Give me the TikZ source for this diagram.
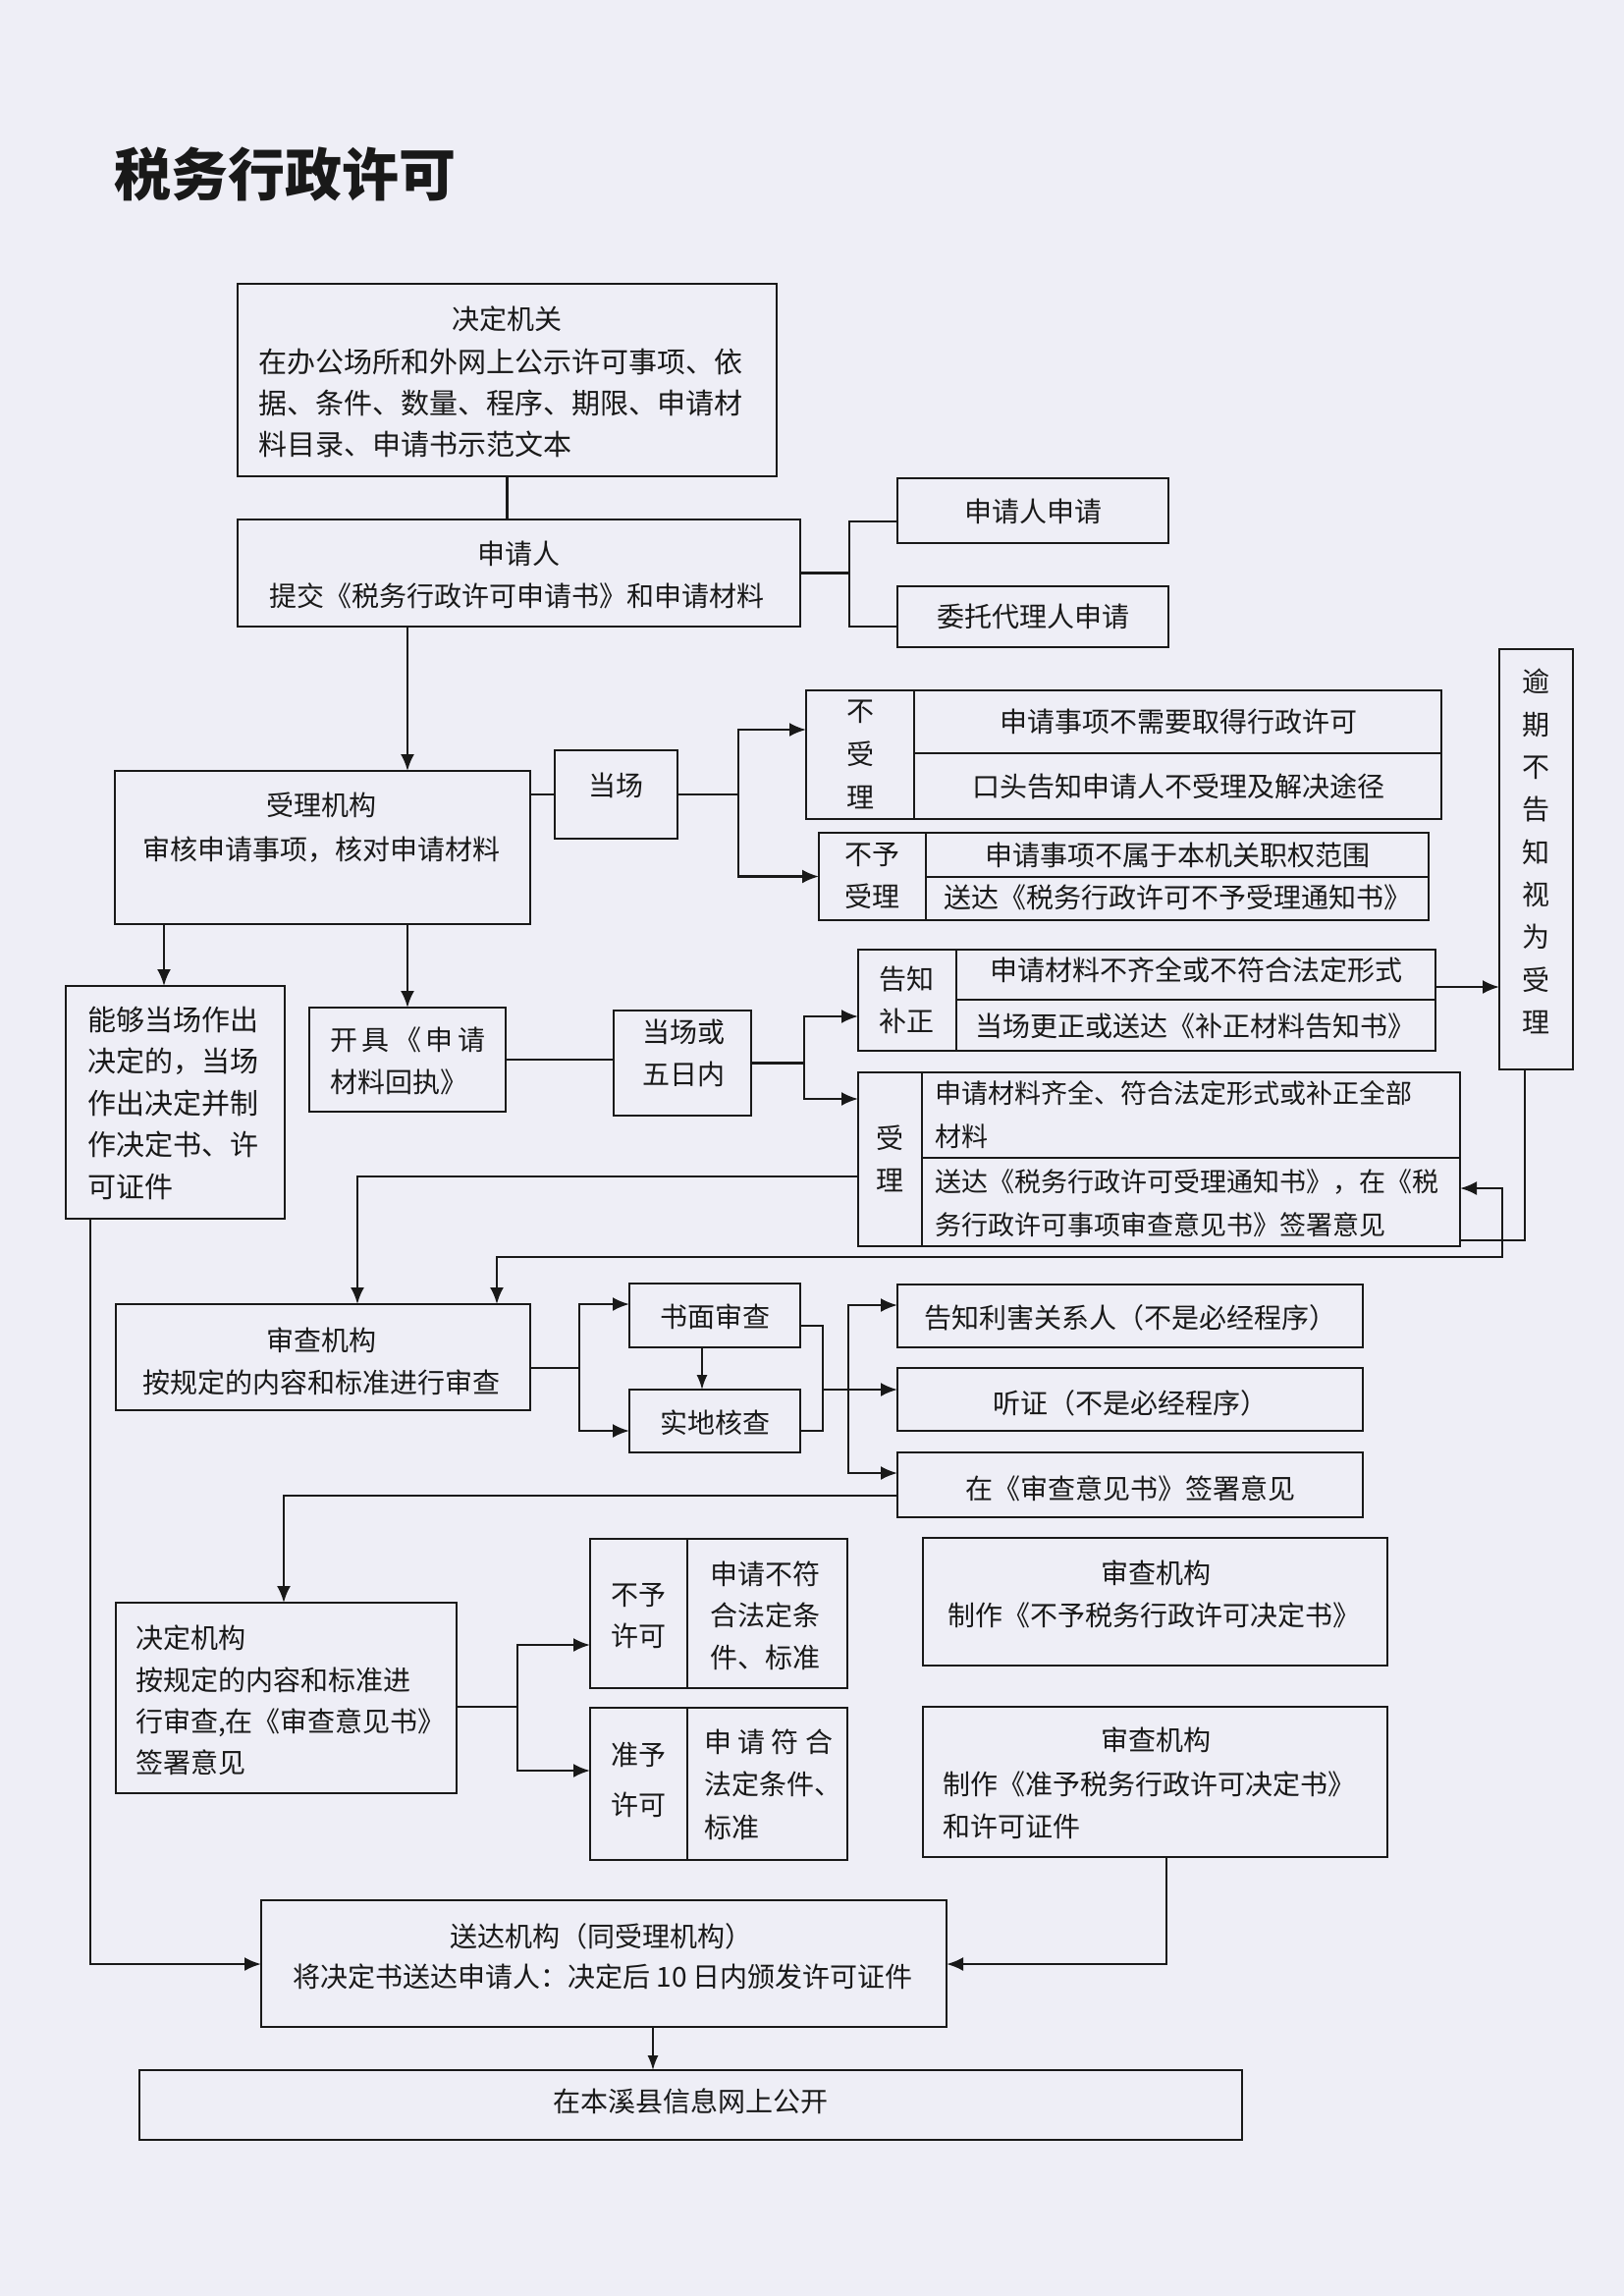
\documentclass[tikz,border=0pt]{standalone}
\usepackage{fontspec}
\setmainfont{Noto Sans CJK SC}
\usetikzlibrary{arrows.meta}
\definecolor{bgc}{RGB}{238,238,246}
\definecolor{ink}{RGB}{25,25,25}
\newcommand\bx[5]{\node[box, minimum width={#4-#2}, minimum height={#5-#3}] (#1) at ({(#2+#4)/2},{(#3+#5)/2}) {};}
\begin{document}
\begin{tikzpicture}[x=1pt,y=-1pt,
  box/.style={draw=ink, line width=2.6pt, inner sep=0pt, outer sep=0pt},
  dv/.style={draw=ink, line width=2.2pt},
  txt/.style={inner sep=0pt, text=ink, font=\fontsize{28}{43}\selectfont},
  ln/.style={draw=ink, line width=2.4pt},
  arr/.style={draw=ink, line width=2.4pt, -{Latex[length=17pt,width=14pt]}},
  arrb/.style={draw=ink, line width=2.4pt, {Latex[length=17pt,width=14pt]}-{Latex[length=17pt,width=14pt]}},
  tarr/.style={draw=ink, line width=1.6pt, -{Latex[length=15pt,width=11pt]}}]
\fill[bgc] (0,0) rectangle (1654,2338);
\useasboundingbox (0,0) rectangle (1654,2338);

% title
\node[txt, anchor=west, font=\fontsize{58}{58}\selectfont\bfseries] (title) at (116,178) {税务行政许可};

% boxes
\bx{jdjg}{242}{289}{791}{485}
\bx{sqr}{242}{529}{815}{638}
\bx{sqrsq}{914}{487}{1190}{553}
\bx{wt}{914}{597}{1190}{659}
\bx{sljg}{117}{785}{540}{941}
\bx{dc}{565}{764}{690}{854}
\bx{bsl}{821}{703}{1468}{834}
\bx{bysl}{834}{848}{1455}{937}
\bx{yq}{1527}{661}{1602}{1089}
\bx{nd}{67}{1004}{290}{1241}
\bx{kj}{315}{1026}{515}{1132}
\bx{dcw}{625}{1029}{765}{1136}
\bx{gz}{874}{967}{1462}{1070}
\bx{sl}{874}{1092}{1487}{1269}
\bx{scjg}{118}{1328}{540}{1436}
\bx{sm}{641}{1307}{815}{1372}
\bx{sd}{641}{1415}{815}{1479}
\bx{gzlh}{914}{1308}{1388}{1372}
\bx{tz}{914}{1393}{1388}{1457}
\bx{zsc}{914}{1479}{1388}{1545}
\bx{jdjgb}{118}{1632}{465}{1826}
\bx{byxk}{601}{1567}{863}{1719}
\bx{zyxk}{601}{1739}{863}{1894}
\bx{scby}{940}{1566}{1413}{1696}
\bx{sczy}{940}{1738}{1413}{1891}
\bx{sdjg}{266}{1935}{964}{2064}
\bx{gk}{142}{2108}{1265}{2179}

% inner dividers
\draw[dv] (931,703) -- (931,834);  \draw[dv] (931,767) -- (1468,767);
\draw[dv] (943,848) -- (943,937);  \draw[dv] (943,893) -- (1455,893);
\draw[dv] (974,967) -- (974,1070); \draw[dv] (974,1018) -- (1462,1018);
\draw[dv] (939,1092) -- (939,1269); \draw[dv] (939,1179) -- (1487,1179);
\draw[dv] (700,1567) -- (700,1719);
\draw[dv] (700,1739) -- (700,1894);

% texts
\node[txt] (t1) at (516,325) {决定机关};
\node[txt, anchor=west, align=left, font=\fontsize{29}{42}\selectfont] (t2) at (263,410) {在办公场所和外网上公示许可事项、依\\据、条件、数量、程序、期限、申请材\\料目录、申请书示范文本};
\node[txt] (t3) at (528,564) {申请人};
\node[txt] (t4) at (526,607) {提交《税务行政许可申请书》和申请材料};
\node[txt] (t5) at (1052,521) {申请人申请};
\node[txt] (t6) at (1052,628) {委托代理人申请};
\node[txt] (t7) at (327,820) {受理机构};
\node[txt] (t8) at (327,865) {审核申请事项，核对申请材料};
\node[txt] (t9) at (627,800) {当场};
\node[txt, align=center, font=\fontsize{28}{44}\selectfont] (t10) at (876,768) {不\\受\\理};
\node[txt] (t11) at (1200,735) {申请事项不需要取得行政许可};
\node[txt] (t12) at (1200,801) {口头告知申请人不受理及解决途径};
\node[txt, align=center] (t13) at (888,892) {不予\\受理};
\node[txt] (t14) at (1199,871) {申请事项不属于本机关职权范围};
\node[txt] (t15) at (1199,914) {送达《税务行政许可不予受理通知书》};
\node[txt, align=center, font=\fontsize{28}{43.3}\selectfont] (t16) at (1564,867) {逾\\期\\不\\告\\知\\视\\为\\受\\理};
\node[txt, anchor=west, align=left, font=\fontsize{29}{42.5}\selectfont] (t17) at (89,1123) {能够当场作出\\决定的，当场\\作出决定并制\\作决定书、许\\可证件};
\node[txt, anchor=west, align=left] (t18) at (336,1080) {\makebox[158pt][s]{开\hfil 具\hfil 《\hfil 申\hfil 请}\\材料回执》};
\node[txt, align=center] (t19) at (696,1072) {当场或\\五日内};
\node[txt, align=center] (t20) at (923,1018) {告知\\补正};
\node[txt] (t21) at (1218,988) {申请材料不齐全或不符合法定形式};
\node[txt] (t22) at (1217,1045) {当场更正或送达《补正材料告知书》};
\node[txt, align=center] (t23) at (906,1180) {受\\理};
\node[txt, anchor=west, align=left, font=\fontsize{27}{44}\selectfont] (t24) at (952,1135.5) {申请材料齐全、符合法定形式或补正全部\\材料};
\node[txt, anchor=west, align=left, font=\fontsize{27}{44}\selectfont] (t25) at (952,1225) {送达《税务行政许可受理通知书》，在《税\\务行政许可事项审查意见书》签署意见};
\node[txt] (t26) at (327,1365) {审查机构};
\node[txt] (t27) at (327,1408) {按规定的内容和标准进行审查};
\node[txt] (t28) at (728,1341) {书面审查};
\node[txt] (t29) at (728,1449) {实地核查};
\node[txt] (t30) at (1151,1342) {告知利害关系人（不是必经程序）};
\node[txt] (t31) at (1151,1429) {听证（不是必经程序）};
\node[txt] (t32) at (1151,1516) {在《审查意见书》签署意见};
\node[txt, anchor=west, align=left, font=\fontsize{28}{42.3}\selectfont] (t33) at (138,1731.5) {决定机构\\按规定的内容和标准进\\行审查,在《审查意见书》\\签署意见};
\node[txt, align=center, font=\fontsize{28}{42}\selectfont] (t34) at (650,1646) {不予\\许可};
\node[txt, anchor=west, align=left, font=\fontsize{28}{42.5}\selectfont] (t35) at (723,1645) {申请不符\\合法定条\\件、标准};
\node[txt, align=center, font=\fontsize{28}{51}\selectfont] (t36) at (650,1812) {准予\\许可};
\node[txt, anchor=west, align=left, font=\fontsize{28}{43.5}\selectfont] (t37) at (717,1817) {\makebox[131pt][s]{申\hfil 请\hfil 符\hfil 合}\\法定条件、\\标准};
\node[txt] (t38) at (1177,1602) {审查机构};
\node[txt] (t39) at (1175,1645) {制作《不予税务行政许可决定书》};
\node[txt] (t40) at (1177,1772) {审查机构};
\node[txt, anchor=west, align=left] (t41) at (960,1838.5) {制作《准予税务行政许可决定书》\\和许可证件};
\node[txt] (t42) at (612,1972) {送达机构（同受理机构）};
\node[txt] (t43) at (614,2013) {将决定书送达申请人：决定后 10 日内颁发许可证件};
\node[txt] (t44) at (703,2140) {在本溪县信息网上公开};

% helper coordinates
\coordinate (b1) at (865,531);
\coordinate (b2) at (865,638);
\coordinate (k415) at (415,0);
\coordinate (k752) at (752,0);
\coordinate (k167) at (167,0);
\coordinate (k819) at (819,0);
\coordinate (k1553) at (1553,0);
\coordinate (k1530) at (1530,0);
\coordinate (k506) at (506,0);
\coordinate (k364) at (364,0);
\coordinate (k590) at (590,0);
\coordinate (k715) at (715,0);
\coordinate (k838) at (838,0);
\coordinate (k864) at (864,0);
\coordinate (k289) at (289,0);
\coordinate (k527) at (527,0);
\coordinate (k92) at (92,0);
\coordinate (k1188) at (1188,0);
\coordinate (k665) at (665,0);
\coordinate (y743) at (0,743);
\coordinate (y1035) at (0,1035);
\coordinate (y1119) at (0,1119);
\coordinate (y1005) at (0,1005);
\coordinate (y1263) at (0,1263);
\coordinate (y1210) at (0,1210);
\coordinate (y1280) at (0,1280);
\coordinate (y1198) at (0,1198);
\coordinate (y1393) at (0,1393);
\coordinate (y1328) at (0,1328);
\coordinate (y1457) at (0,1457);
\coordinate (y1350) at (0,1350);
\coordinate (y1415) at (0,1415);
\coordinate (y1329) at (0,1329);
\coordinate (y1500) at (0,1500);
\coordinate (y1523) at (0,1523);
\coordinate (y1738) at (0,1738);
\coordinate (y1675) at (0,1675);
\coordinate (y1803) at (0,1803);
\coordinate (y2000) at (0,2000);

% connectors
\draw[ln] (jdjg.south) -- (jdjg.south |- sqr.north);
\draw[ln] (sqr.east) -- (sqr.east -| b1);
\draw[ln] (sqrsq.west |- b1) -- (b1) -- (b2) -- (wt.west |- b2);
\draw[arr] (sqr.south -| k415) -- (sljg.north -| k415);
\draw[ln] (sljg.east |- dc.west) -- (dc.west);
\draw[ln] (dc.east) -- (dc.east -| k752);
\draw[arr] (dc.east -| k752) |- (bsl.west |- y743);
\draw[arr] (dc.east -| k752) |- (bysl.west);
\draw[arr] (sljg.south -| k167) -- (nd.north -| k167);
\draw[arr] (sljg.south -| k415) -- (kj.north -| k415);
\draw[ln] (kj.east) -- (kj.east -| dcw.west);
\draw[ln] (dcw.east) -- (dcw.east -| k819);
\draw[arr] (dcw.east -| k819) |- (gz.west |- y1035);
\draw[arr] (dcw.east -| k819) |- (sl.west |- y1119);
\draw[arr] (gz.east |- y1005) -- (yq.west |- y1005);
\draw[ln] (yq.south -| k1553) |- (sl.east |- y1263);
\draw[arrb] (sl.east |- y1210) -| (k1530 |- y1280) -| (scjg.north -| k506);
\draw[arr] (sl.west |- y1198) -| (scjg.north -| k364);
\draw[ln] (scjg.east |- y1393) -- (k590 |- y1393);
\draw[arr] (k590 |- y1393) |- (sm.west |- y1328);
\draw[arr] (k590 |- y1393) |- (sd.west |- y1457);
\draw[tarr] (sm.south -| k715) -- (sd.north -| k715);
\draw[ln] (sm.east |- y1350) -| (k838 |- y1457) -- (sd.east |- y1457);
\draw[arr] (k838 |- y1415) -- (tz.west |- y1415);
\draw[arr] (k864 |- y1415) |- (gzlh.west |- y1329);
\draw[arr] (k864 |- y1415) |- (zsc.west |- y1500);
\draw[arr] (zsc.west |- y1523) -| (jdjgb.north -| k289);
\draw[ln] (jdjgb.east |- y1738) -- (k527 |- y1738);
\draw[arr] (k527 |- y1738) |- (byxk.west |- y1675);
\draw[arr] (k527 |- y1738) |- (zyxk.west |- y1803);
\draw[arr] (nd.south -| k92) |- (sdjg.west |- y2000);
\draw[arr] (sczy.south -| k1188) |- (sdjg.east |- y2000);
\draw[tarr] (sdjg.south -| k665) -- (gk.north -| k665);
\end{tikzpicture}
\end{document}
